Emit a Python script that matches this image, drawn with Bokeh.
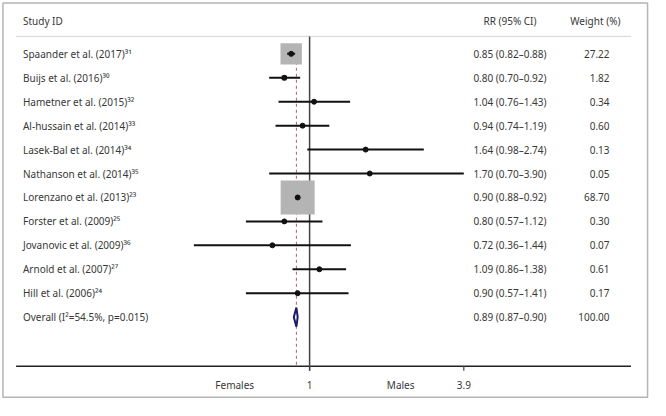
from bokeh.plotting import figure
from bokeh.models import Range1d, LinearScale, ColumnDataSource
from bokeh.core.properties import value
from bokeh.embed import file_html
from bokeh.resources import INLINE

# ---------------- data ----------------
studies = [
    "Spaander et al. (2017)\u00b3\u00b9",
    "Buijs et al. (2016)\u00b3\u2070",
    "Hametner et al. (2015)\u00b3\u00b2",
    "Al-hussain et al. (2014)\u00b3\u00b3",
    "Lasek-Bal et al. (2014)\u00b3\u2074",
    "Nathanson et al. (2014)\u00b3\u2075",
    "Lorenzano et al. (2013)\u00b2\u00b3",
    "Forster et al. (2009)\u00b2\u2075",
    "Jovanovic et al. (2009)\u00b3\u2076",
    "Arnold et al. (2007)\u00b2\u2077",
    "Hill et al. (2006)\u00b2\u2074",
]
rr = [0.85, 0.80, 1.04, 0.94, 1.64, 1.70, 0.90, 0.80, 0.72, 1.09, 0.90]
ci_low = [0.82, 0.70, 0.76, 0.74, 0.98, 0.70, 0.88, 0.57, 0.36, 0.86, 0.57]
ci_high = [0.88, 0.92, 1.43, 1.19, 2.74, 3.90, 0.92, 1.12, 1.44, 1.38, 1.41]
weights = [27.22, 1.82, 0.34, 0.60, 0.13, 0.05, 68.70, 0.30, 0.07, 0.61, 0.17]

overall_label = "Overall (I\u00b2=54.5%, p=0.015)"
overall_rr = 0.89
overall_low = 0.87
overall_high = 0.90
overall_weight = 100.00

tick_values = [1, 3.9]
tick_labels = ["1", "3.9"]
side_labels = ["Females", "Males"]
headers = ["Study ID", "RR (95% CI)", "Weight (%)"]

# ---------------- figure ----------------
FONT = value("Noto Sans")
TXT = "#383838"
FS = "10px"

n = len(studies)
rows = list(range(n))
overall_row = n

p = figure(width=650, height=400, x_axis_type="log",
           x_range=Range1d(0.06535, 20.26), y_range=Range1d(14.484, -2.230),
           output_backend="svg", toolbar_location=None, min_border=0,
           x_axis_location=None, y_axis_location=None)
p.grid.visible = False
p.outline_line_color = None
p.background_fill_color = "white"
p.border_fill_color = "white"
# layout coordinate system (pixels of the original 666x416 picture)
p.extra_x_ranges = {"px": Range1d(0, 666)}
p.extra_x_scales = {"px": LinearScale()}
p.extra_y_ranges = {"px": Range1d(416, 0)}
p.extra_y_scales = {"px": LinearScale()}

# outer frame
p.quad(left=[2.5], right=[663], top=[2.5], bottom=[412.5], fill_color=None,
       line_color="#b4b4b4", line_width=1.5, x_range_name="px", y_range_name="px")

# header separator and axis line
p.segment(x0=[16], y0=[37.3], x1=[646], y1=[37.3], line_color="#d4d4d4",
          line_width=1, x_range_name="px", y_range_name="px")
p.segment(x0=[16], y0=[380.3], x1=[646], y1=[380.3], line_color="#222222",
          line_width=1.5, x_range_name="px", y_range_name="px")

# null line at 1 and overall dashed line
p.segment(x0=[1], y0=[37.5], x1=[1], y1=[385], line_color="#444444",
          line_width=1.5, y_range_name="px")
p.segment(x0=[overall_rr], y0=[45], x1=[overall_rr], y1=[380],
          line_color="#c0566b", line_width=1, line_dash="3 3", y_range_name="px")
# ticks
p.segment(x0=tick_values, y0=[380] * len(tick_values), x1=tick_values,
          y1=[385] * len(tick_values), line_color="#444444", line_width=1.2,
          y_range_name="px")

# weight boxes
max_w = max(weights)
sizes = [34 * (w / max_w) ** 0.5 for w in weights]
src = ColumnDataSource(dict(y=rows, rr=rr, lo=ci_low, hi=ci_high, size=sizes,
                            study=studies,
                            ci_txt=[f"{a:.2f} ({b:.2f}\u2013{c:.2f})" for a, b, c in zip(rr, ci_low, ci_high)],
                            w_txt=[f"{w:.2f}" for w in weights]))
p.scatter(x="rr", y="y", size="size", marker="square", source=src,
          fill_color="#b4b4b4", line_color=None)
p.segment(x0="lo", y0="y", x1="hi", y1="y", source=src, line_color="#111111",
          line_width=2)
p.scatter(x="rr", y="y", size=5, source=src, fill_color="#111111",
          line_color="#111111")

# overall diamond
h = 0.4
p.patch(x=[overall_low, overall_rr, overall_high, overall_rr],
        y=[overall_row, overall_row - h, overall_row, overall_row + h],
        fill_color="white", line_color="#1c1c6e", line_width=2)

# texts
common = dict(text_font=FONT, text_font_size=FS, text_color=TXT,
              text_baseline="middle")
p.text(x=23, y="y", text="study", source=src, text_align="left",
       x_range_name="px", **common)
p.text(x=522, y="y", text="ci_txt", source=src, text_align="center",
       x_range_name="px", **common)
p.text(x=624, y="y", text="w_txt", source=src, text_align="right",
       x_range_name="px", **common)

p.text(x=[23], y=[overall_row], text=[overall_label], text_align="left",
       x_range_name="px", **common)
p.text(x=[522], y=[overall_row],
       text=[f"{overall_rr:.2f} ({overall_low:.2f}\u2013{overall_high:.2f})"],
       text_align="center", x_range_name="px", **common)
p.text(x=[624], y=[overall_row], text=[f"{overall_weight:.2f}"],
       text_align="right", x_range_name="px", **common)

# headers
p.text(x=[23, 522, 609.5], y=[21.5] * 3, text=headers,
       text_align=["left", "center", "center"],
       x_range_name="px", y_range_name="px", **common)

# axis labels
p.text(x=tick_values, y=[400] * len(tick_values), text=tick_labels,
       text_align="center", y_range_name="px", **common)
p.text(x=[240, 410], y=[399.5, 399.5], text=side_labels, text_align="center",
       x_range_name="px", y_range_name="px", **common)

open("out.html", "w").write(file_html(p, INLINE))
